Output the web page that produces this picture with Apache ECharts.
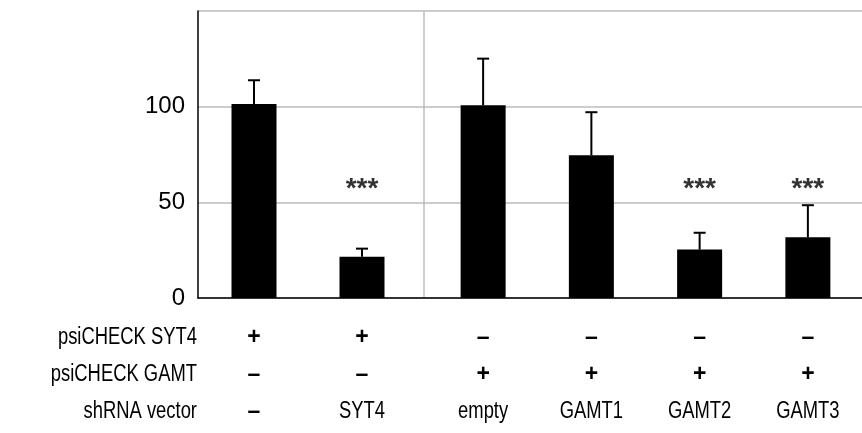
<!DOCTYPE html>
<html>
<head>
<meta charset="utf-8">
<script src="https://cdn.jsdelivr.net/npm/echarts@6/dist/echarts.min.js"></script>
<style>html,body{margin:0;padding:0;background:#fff}#c{width:862px;height:433px}</style>
</head>
<body>
<div id="c"></div>
<script>
// ---- data ----
var shRNA = ['–', 'SYT4', 'empty', 'GAMT1', 'GAMT2', 'GAMT3'];
var psiSYT4 = ['+', '+', '–', '–', '–', '–'];
var psiGAMT = ['–', '–', '+', '+', '+', '+'];
var means = [101.4, 21.6, 100.7, 74.6, 25.3, 31.7];
var errors = [12.4, 4.2, 24.4, 22.5, 8.8, 16.8];
var signif = ['', '***', '', '', '***', '***'];
var rowTitles = ['psiCHECK SYT4', 'psiCHECK GAMT', 'shRNA vector'];
var yTicks = [0, 50, 100, 150];
var groupSizes = [2, 4];

var FONT = "'Liberation Sans', Arial, sans-serif";
var STAR_LEVEL = 57;
var ROW_H = 37;
var ROW_FIRST = 40;     // px below the axis to the centre of the first row
var NARROW_SCALE = 0.8;

var chart = echarts.init(document.getElementById('c'), null, {renderer: 'canvas'});

function slice(arr, g) {
  var start = 0;
  for (var i = 0; i < g; i++) start += groupSizes[i];
  return arr.slice(start, start + groupSizes[g]);
}

var grids = [
  {left: 198, right: 0, top: 11, bottom: 135},
  {left: 200, width: 216, top: 11, bottom: 135},
  {left: 429, width: 440, top: 11, bottom: 135}
];

var xAxes = [{
  gridIndex: 0, type: 'value', min: 0, max: 1,
  axisLine: {show: true, onZero: false, lineStyle: {color: '#000', width: 1.5}},
  axisTick: {show: false}, axisLabel: {show: false}, splitLine: {show: false}
}];
var yAxes = [{
  gridIndex: 0, type: 'value', min: yTicks[0], max: yTicks[yTicks.length - 1], interval: 50,
  axisLine: {show: true, lineStyle: {color: '#000', width: 1.5}},
  axisTick: {show: false},
  axisLabel: {
    margin: 13, color: '#000', fontFamily: FONT, fontSize: 24,
    formatter: function (v) { return v === 150 ? '' : String(v); }
  },
  splitLine: {show: true, lineStyle: {color: '#bdbdbd', width: 1.5}}
}];

var series = [];

function markText(txt, x, y) {
  var isMark = (txt === '+' || txt === '–');
  return {
    type: 'text', x: x, y: y,
    scaleX: isMark ? 1 : NARROW_SCALE,
    style: {
      text: txt, fill: '#000',
      font: (isMark ? 'bold 23px ' : '23px ') + FONT,
      textAlign: 'center', textVerticalAlign: 'middle'
    }
  };
}

[0, 1].forEach(function (g) {
  var gi = g + 1;
  var cats = slice(shRNA, g);
  var s1 = slice(psiSYT4, g), s2 = slice(psiGAMT, g);
  xAxes.push({
    gridIndex: gi, type: 'category', data: cats,
    axisLine: {show: false}, axisTick: {show: false}, splitLine: {show: false},
    axisLabel: {show: false}
  });
  yAxes.push({gridIndex: gi, type: 'value', min: 0, max: 150, show: false});

  var m = slice(means, g), e = slice(errors, g), sg = slice(signif, g);

  series.push({
    type: 'bar', xAxisIndex: gi, yAxisIndex: gi, data: m, barWidth: 45,
    itemStyle: {color: '#000'}, silent: true, z: 2
  });
  series.push({
    type: 'custom', xAxisIndex: gi, yAxisIndex: gi, z: 3, silent: true,
    data: m.map(function (v, i) { return [i, v, v + e[i]]; }),
    renderItem: function (params, api) {
      var p0 = api.coord([api.value(0), api.value(1)]);
      var p1 = api.coord([api.value(0), api.value(2)]);
      var hw = 6;
      return {
        type: 'group',
        children: [
          {type: 'line', shape: {x1: p0[0], y1: p0[1], x2: p1[0], y2: p1[1]}, style: {stroke: '#000', lineWidth: 2}},
          {type: 'line', shape: {x1: p1[0] - hw, y1: p1[1], x2: p1[0] + hw, y2: p1[1]}, style: {stroke: '#000', lineWidth: 2}}
        ]
      };
    }
  });
  // condition table under each bar
  series.push({
    type: 'custom', xAxisIndex: gi, yAxisIndex: gi, z: 3, silent: true, clip: false,
    data: cats.map(function (c, i) { return [i, 0]; }),
    renderItem: function (params, api) {
      var i = params.dataIndex;
      var base = api.coord([api.value(0), 0]);
      var x = base[0], y0 = base[1] + ROW_FIRST;
      return {
        type: 'group',
        children: [
          markText(s1[i], x, y0),
          markText(s2[i], x, y0 + ROW_H),
          markText(cats[i], x, y0 + 2 * ROW_H)
        ]
      };
    }
  });
  var starData = [];
  sg.forEach(function (s, i) { if (s) starData.push({value: [i, STAR_LEVEL], name: s}); });
  series.push({
    type: 'scatter', xAxisIndex: gi, yAxisIndex: gi, symbolSize: 1, silent: true,
    itemStyle: {color: 'rgba(0,0,0,0)'},
    data: starData,
    label: {
      show: true, position: 'inside', formatter: function (p) { return p.name; },
      fontFamily: FONT, fontSize: 28, fontWeight: 'bold', color: '#000',
      textBorderWidth: 0
    }
  });
});

var graphics = [{
  type: 'line', shape: {x1: 424, y1: 11, x2: 424, y2: 298},
  style: {stroke: '#bdbdbd', lineWidth: 1.5}, silent: true
}];
rowTitles.forEach(function (t, i) {
  graphics.push({
    type: 'text', x: 197, y: 298 + ROW_FIRST + i * ROW_H, scaleX: NARROW_SCALE,
    style: {text: t, font: '23px ' + FONT, fill: '#000', textAlign: 'right', textVerticalAlign: 'middle'}
  });
});

chart.setOption({
  animation: false,
  backgroundColor: '#fff',
  grid: grids,
  xAxis: xAxes,
  yAxis: yAxes,
  series: series,
  graphic: graphics
});
</script>
</body>
</html>
